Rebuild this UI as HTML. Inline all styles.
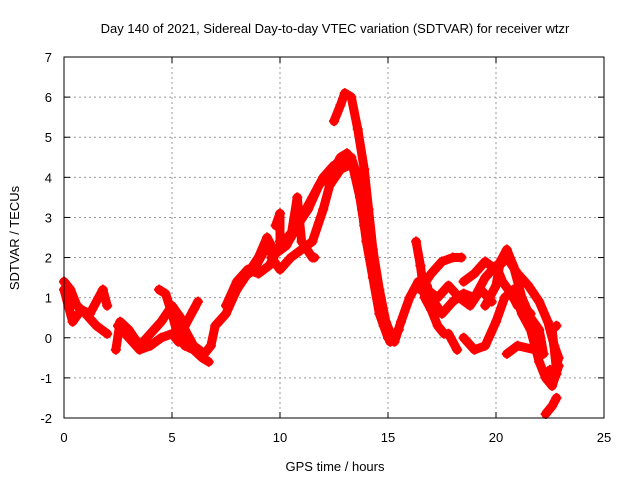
<!DOCTYPE html>
<html><head><meta charset="utf-8"><style>
body{margin:0;background:#fff}
svg text{font-family:"Liberation Sans",sans-serif;font-size:13px;fill:#000}
</style></head><body>
<svg id="c" width="640" height="480">
<text x="335" y="33" text-anchor="middle">Day 140 of 2021, Sidereal Day-to-day VTEC variation (SDTVAR) for receiver wtzr</text>
<text x="335" y="471" text-anchor="middle">GPS time / hours</text>
<text transform="translate(19,238) rotate(-90)" text-anchor="middle">SDTVAR / TECUs</text>
<g id="grid"></g><g id="marks"></g>
<rect x="64" y="57" width="540" height="361" fill="none" stroke="#000" stroke-width="1"/>
</svg>
<script>
const xTicks=[0,5,10,15,20,25];
const yTicks=[-2,-1,0,1,2,3,4,5,6,7];
const trackA=[[0,1.4],[0.3,1.2],[0.6,0.8],[1,0.6],[1.5,0.3],[2,0.1]];
const trackB=[[0,1.2],[0.2,0.8],[0.4,0.4],[0.8,0.7],[1.2,0.6],[1.6,1.0],[1.8,1.2],[2,0.8]];
const trackC=[[2.4,-0.3],[2.6,0.4],[3,0.2],[3.5,-0.2],[4,0.1],[4.5,0.4],[5,0.8],[5.4,0.5],[5.6,0.2],[6,-0.2],[6.5,-0.4],[6.8,-0.2],[7,0.3],[7.5,0.6],[8,1.2],[8.5,1.6],[9,2.0],[9.4,2.5],[9.7,2.2]];
const trackD=[[2.5,0.3],[3,0],[3.5,-0.3],[4,-0.2],[4.5,0],[5,0.1],[5.3,-0.1],[5.6,0.3],[6,0.7],[6.2,0.9]];
const trackE=[[4.4,1.2],[4.7,1.1],[5,0.6],[5.3,0],[5.6,-0.2],[6,-0.3],[6.4,-0.5],[6.7,-0.6]];
const trackF=[[7.5,0.8],[8,1.4],[8.5,1.7],[9,1.6],[9.5,1.8],[10,2.3],[10.5,2.6],[11,3.0],[11.5,3.5],[12,4.0],[12.5,4.3],[13,4.4],[13.3,4.5],[13.6,4.0],[13.8,3.2],[14,2.4],[14.3,1.5],[14.6,0.6],[15,0],[15.3,-0.1],[15.6,0.4],[16,1.0],[16.4,1.4],[16.8,1.3],[17,1.0],[17.5,0.6],[18,0.9],[18.5,1.1],[19,1.0],[19.5,1.5],[20,1.8],[20.3,1.4],[20.7,1.1],[21,0.8],[21.4,0.7],[21.6,0.6]];
const trackG=[[12.5,5.4],[12.8,5.8],[13,6.1],[13.3,6.0],[13.6,5.2],[13.9,4.2],[14.1,3.2],[14.3,2.2],[14.6,1.2],[14.9,0.4],[15.2,0],[15.5,0.2]];
const trackH=[[9.6,2.0],[10,1.7],[10.5,2.0],[11,2.2],[11.5,2.4],[12,3.2],[12.3,3.8],[12.8,4.2],[13.2,4.3]];
const trackI=[[9.8,2.8],[10,3.1],[10,2.4],[10.5,2.5],[10.8,3.5],[11,2.4],[11.5,2.0],[11.6,2.0]];
const trackJ=[[16.3,2.4],[16.5,1.8],[16.7,1.0],[17,0.7],[17.3,0.3],[17.6,0.1],[17.8,0.1],[18.2,-0.3]];
const trackK=[[16.5,1.2],[17,1.6],[17.5,1.9],[18,2.0],[18.4,2.0]];
const trackL=[[18.5,1.4],[19,1.6],[19.5,1.9],[20,1.7],[20.5,2.0],[21,1.6],[21.5,1.3],[22,0.9],[22.4,0.4],[22.7,-0.2],[22.9,-0.5],[22.6,-1.1],[22.8,-0.9]];
const trackM=[[18.5,0],[19,-0.3],[19.5,-0.2],[20,0.4],[20.4,1.0],[20.8,1.2],[21.2,0.6],[21.6,0.2],[22,-0.6],[22.3,-1.0],[22.6,-1.2],[22.9,-0.7]];
const trackN=[[19.5,0.8],[20,1.3],[20.2,1.9],[20.5,2.2],[20.8,1.8],[21.2,1.0],[21.6,0.5],[22,0.2],[22.2,-0.4],[21.8,-0.3],[21,-0.2],[20.5,-0.4]];
const trackO=[[22.3,-1.9],[22.6,-1.7],[22.8,-1.5]];
const trackP=[[22.5,-0.8],[22.8,-0.8],[22.6,0.2],[22.8,0.3]];
const trackQ=[[12,3.9],[12.4,4.1],[12.8,4.5],[13.1,4.6],[13.4,4.2],[13.7,3.5],[13.9,2.8],[14.2,2.0],[14.5,1.0],[14.8,0.3],[15.1,-0.1]];
const trackR=[[7.8,1.0],[8.3,1.5],[8.8,1.7],[9.3,2.2],[9.8,2.1],[10.3,2.3],[10.8,2.8],[11.3,3.2],[11.8,3.8]];
const trackS=[[16.8,1.2],[17.3,1.0],[17.8,1.3],[18.3,1.0],[18.8,0.8],[19.3,1.2],[19.8,0.9]];
const tracks=[trackA,trackB,trackC,trackD,trackE,trackF,trackG,trackH,trackI,trackJ,trackK,trackL,trackM,trackN,trackO,trackP,trackQ,trackR,trackS];
const NS="http://www.w3.org/2000/svg";
const X=t=>64+t*21.6, Y=v=>57+(7-v)*40.11;
const grid=document.getElementById('grid'), marks=document.getElementById('marks');
function mk(tag,attrs,parent){const e=document.createElementNS(NS,tag);for(const k in attrs)e.setAttribute(k,attrs[k]);parent.appendChild(e);return e;}
xTicks.forEach(t=>{
  if(t>0&&t<25){const g=mk('line',{x1:X(t),x2:X(t),y1:57,y2:418,stroke:'#999','stroke-dasharray':'2,3'},grid);
  
  }
  mk('line',{x1:X(t),x2:X(t),y1:418,y2:412,stroke:'#000'},grid);
  mk('line',{x1:X(t),x2:X(t),y1:57,y2:63,stroke:'#000'},grid);
  const l=mk('text',{x:X(t),y:442,'text-anchor':'middle'},grid);l.textContent=t;
  
  
});
yTicks.forEach(v=>{
  if(v>-2&&v<7){const g=mk('line',{x1:64,x2:604,y1:Y(v),y2:Y(v),stroke:'#999','stroke-dasharray':'2,3'},grid);
  
  }
  mk('line',{x1:64,x2:70,y1:Y(v),y2:Y(v),stroke:'#000'},grid);
  mk('line',{x1:598,x2:604,y1:Y(v),y2:Y(v),stroke:'#000'},grid);
  const l=mk('text',{x:52,y:Y(v)+5,'text-anchor':'end'},grid);l.textContent=v;
  
  
});
tracks.forEach(tr=>{
  const p=mk('polyline',{points:tr.map(d=>X(d[0])+','+Y(d[1])).join(' '),fill:'none',stroke:'#f00','stroke-width':9,'stroke-linejoin':'round','stroke-linecap':'round'},marks);
  
  
  tr.forEach(d=>{
    const m=mk('path',{d:`M${X(d[0])-5},${Y(d[1])}h10M${X(d[0])},${Y(d[1])-5}v10`,stroke:'#f00','stroke-width':2},marks);
    
    
  });
});
</script>
</body></html>
